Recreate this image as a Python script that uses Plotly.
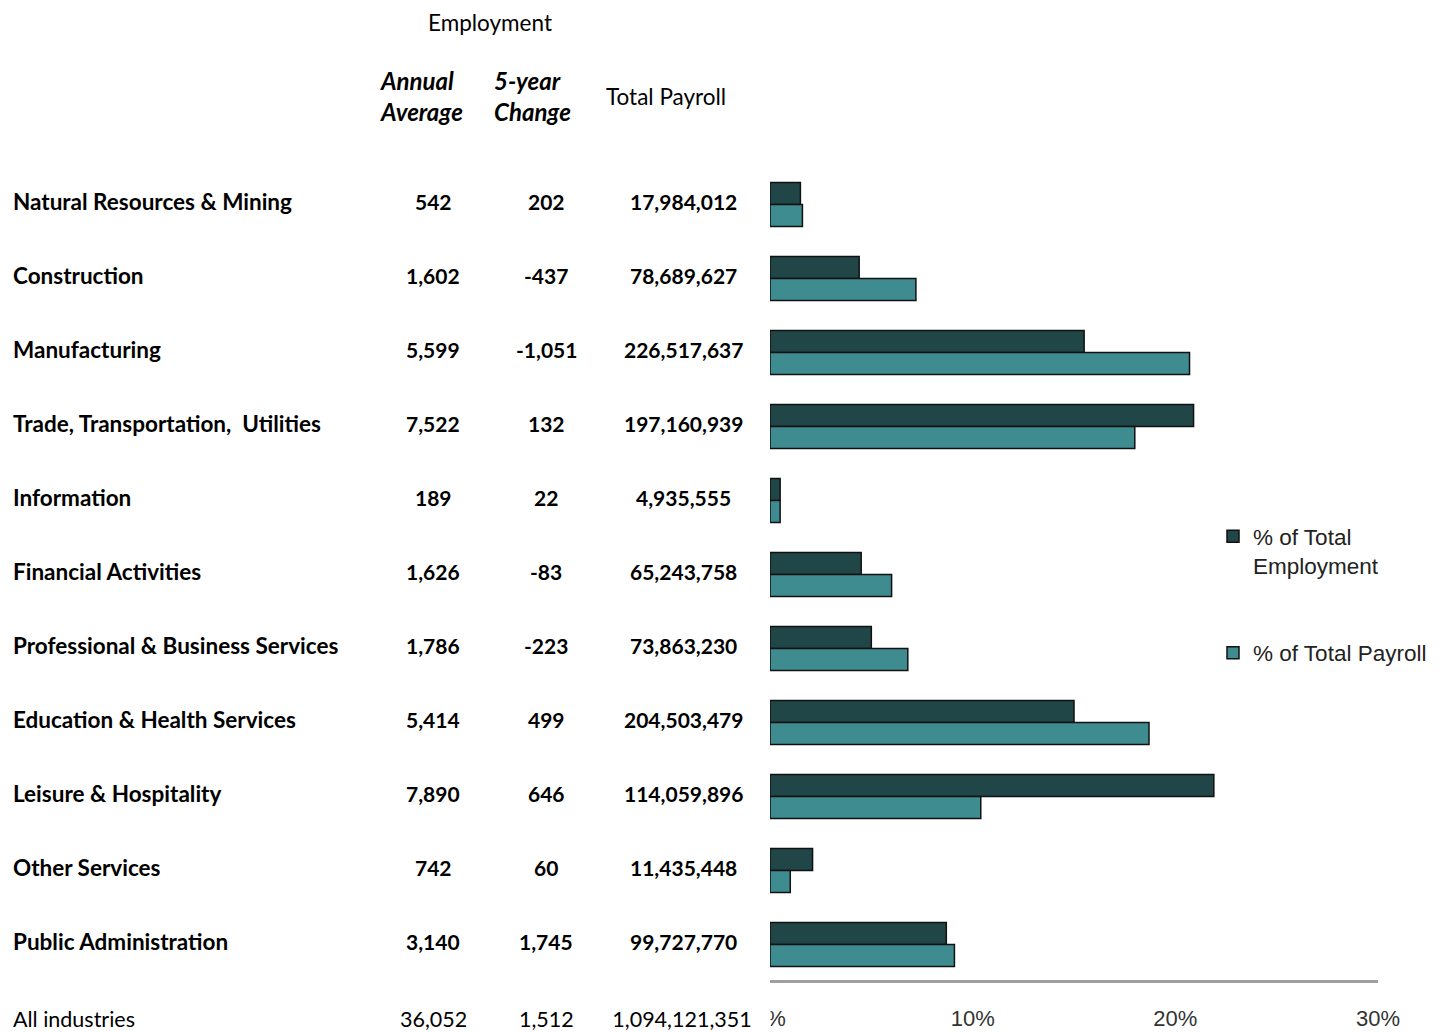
import plotly.graph_objects as go

# table + bar data
industries = [
    "Natural Resources & Mining",
    "Construction",
    "Manufacturing",
    "Trade, Transportation,  Utilities",
    "Information",
    "Financial Activities",
    "Professional & Business Services",
    "Education & Health Services",
    "Leisure & Hospitality",
    "Other Services",
    "Public Administration",
]
annual_avg = [542, 1602, 5599, 7522, 189, 1626, 1786, 5414, 7890, 742, 3140]
change_5yr = [202, -437, -1051, 132, 22, -83, -223, 499, 646, 60, 1745]
total_payroll = [17984012, 78689627, 226517637, 197160939, 4935555, 65243758,
                 73863230, 204503479, 114059896, 11435448, 99727770]
all_label = "All industries"
all_avg = 36052
all_change = 1512
all_payroll = 1094121351

pct_employment = [1.5, 4.4, 15.5, 20.9, 0.5, 4.5, 5.0, 15.0, 21.9, 2.1, 8.7]
pct_payroll = [1.6, 7.2, 20.7, 18.0, 0.5, 6.0, 6.8, 18.7, 10.4, 1.0, 9.1]
x_ticks = [0, 10, 20, 30]

# page has an 8px body margin, so the figure sits at (8, 8)
OFF = 8
W, H = 1443 - OFF, 1032 - OFF
PL, PR, PT, PB = 770 - OFF, 1378 - OFF, 160 - OFF, 980 - OFF   # plot area (figure px)


def px_x(p):
    # screen pixel -> paper x
    return (p - OFF - PL) / (PR - PL)


def px_y(p):
    return (PB - (p - OFF)) / (PB - PT)


TABLE_FONT = "Lato"
DARK = "#214648"
TEAL = "#3e8b90"

fig = go.Figure()
fig.add_trace(go.Bar(y=industries, x=pct_employment, orientation="h",
                     name="% of Total<br>Employment", legendgroup="emp",
                     marker=dict(color=DARK, line=dict(color="#111", width=1.5))))
fig.add_trace(go.Bar(y=industries, x=pct_payroll, orientation="h",
                     name="% of Total Payroll", legendgroup="pay",
                     marker=dict(color=TEAL, line=dict(color="#111", width=1.5))))

anns = []
lab_font = dict(family=TABLE_FONT, size=22.5, color="#000")
num_font = dict(family=TABLE_FONT, size=21, color="#000")
for name, avg, chg, pay in zip(industries, annual_avg, change_5yr, total_payroll):
    common = dict(yref="y", y=name, xref="paper", showarrow=False, yshift=3)
    anns.append(dict(x=px_x(11), xanchor="left", text=f"<b>{name}</b>",
                     font=lab_font, **common))
    anns.append(dict(x=px_x(433), xanchor="center", text=f"<b>{avg:,}</b>",
                     font=num_font, **common))
    anns.append(dict(x=px_x(546), xanchor="center", text=f"<b>{chg:,}</b>",
                     font=num_font, **common))
    anns.append(dict(x=px_x(683), xanchor="center", text=f"<b>{pay:,}</b>",
                     font=num_font, **common))

reg = dict(family=TABLE_FONT, size=21.5, color="#000")
hdr = dict(family=TABLE_FONT, size=22.5, color="#000")
hdr_bi = dict(family=TABLE_FONT, size=24, color="#000")
row_y = px_y(1019)
anns += [
    dict(x=px_x(11), y=row_y, xanchor="left", text=all_label, font=reg),
    dict(x=px_x(433), y=row_y, xanchor="center", text=f"{all_avg:,}", font=reg),
    dict(x=px_x(546), y=row_y, xanchor="center", text=f"{all_change:,}", font=reg),
    dict(x=px_x(682), y=row_y, xanchor="center", text=f"{all_payroll:,}", font=reg,
         bgcolor="white", width=174),
    # headers
    dict(x=px_x(490), y=px_y(OFF), xanchor="center", yanchor="top",
         borderpad=0, text="Employment", font=hdr),
    dict(x=px_x(378), y=px_y(96), xanchor="left", align="left",
         text="<b><i>Annual<br>Average</i></b>", font=hdr_bi),
    dict(x=px_x(492), y=px_y(96), xanchor="left", align="left",
         text="<b><i>5-year<br>Change</i></b>", font=hdr_bi),
    dict(x=px_x(666), y=px_y(97), xanchor="center", text="Total Payroll", font=hdr),
]
for a in anns[-8:]:
    a.setdefault("yanchor", "middle")
    a.update(xref="paper", yref="paper", showarrow=False)
fig.update_layout(annotations=anns)

fig.update_layout(
    width=W, height=H,
    margin=dict(l=PL, r=W - PR, t=PT, b=H - PB, pad=0, autoexpand=False),
    paper_bgcolor="white", plot_bgcolor="white",
    barmode="group", bargap=0.405, bargroupgap=0,
    showlegend=True,
    legend=dict(x=px_x(1213), y=px_y(515), xanchor="left", yanchor="top",
                font=dict(family="Liberation Sans", size=22.5, color="#222"),
                valign="top", tracegroupgap=55, bgcolor="rgba(0,0,0,0)"),
)
fig.update_xaxes(range=[0, 30], tickvals=x_ticks,
                 ticktext=[f"{v}%" for v in x_ticks],
                 showgrid=False, zeroline=False, showline=True,
                 linecolor="#a0a0a0", linewidth=3, ticks="",
                 ticklabelstandoff=17, automargin=False,
                 tickfont=dict(family="Liberation Sans", size=22, color="#333"))
fig.update_yaxes(categoryorder="array", categoryarray=industries,
                 range=[10.48, -0.6], showticklabels=False, showgrid=False,
                 zeroline=False, showline=False, automargin=False)

fig.write_html("out.html")
